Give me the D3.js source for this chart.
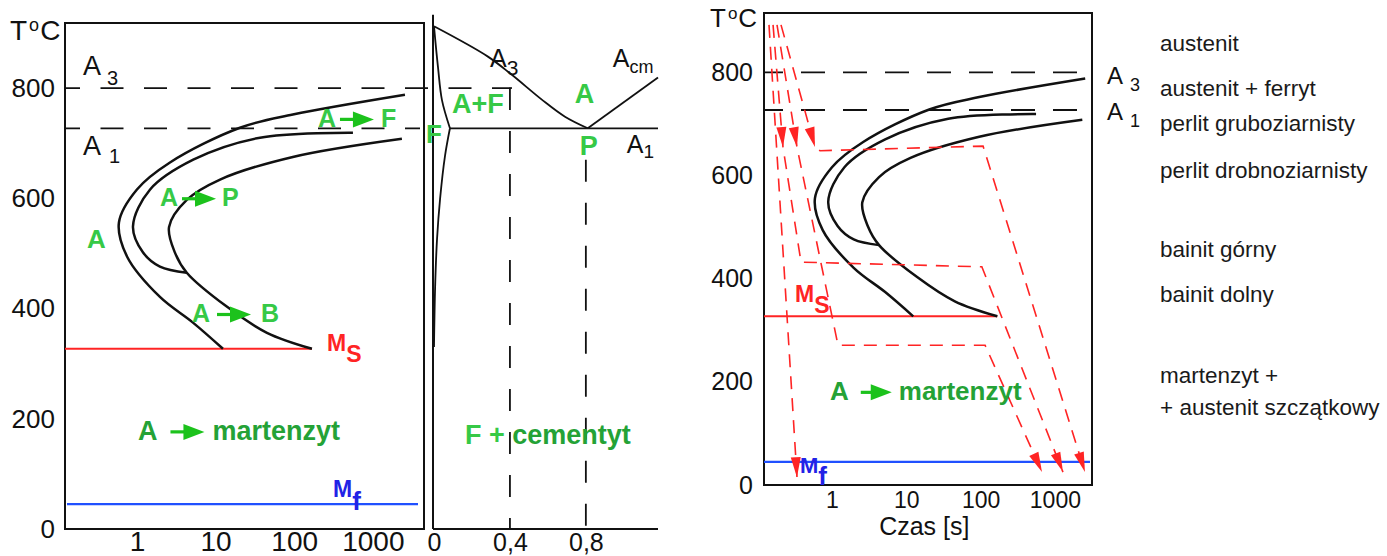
<!DOCTYPE html>
<html>
<head>
<meta charset="utf-8">
<script src="https://cdn.jsdelivr.net/npm/d3@7/dist/d3.min.js"></script>
<style>
  body { margin:0; background:#fff; }
  text { font-family: "Liberation Sans", Arial, sans-serif; }
</style>
</head>
<body>
<script>
// ---- values ----
var tempTicks = [0, 200, 400, 600, 800];
var timeTicks = [1, 10, 100, 1000];
var carbonTicks = [0, 0.4, 0.8];

var A3 = 800, A1 = 727, Ms = 327, Mf = 45;

// C-curves: [time s, temperature C]
var startCurve = [[2560,788],[96,752],[20.4,728],[2.63,665],[1.0,616],[0.59,556],[0.75,494],[1.96,421],[5.2,374],[12.4,327]];
var midCurve   = [[558,719],[36.7,710],[5.2,670],[1.47,616],[0.89,549],[1.19,502],[1.96,476],[4.3,465]];
var endCurve   = [[2340,708],[96,675],[11.4,634],[4.3,597],[2.56,548],[3.05,501],[4.3,465],[14,403],[45,356],[168,327]];

// Fe-C corner: [% C, temperature C]
var a3Line        = [[0,912],[0.284,857],[0.41,824],[0.568,779],[0.69,748],[0.81,727]];
var acmLine       = [[0.81,727],[1.18,819]];
var eutectoidLine = [[0.084,727],[1.18,727]];
var ferriteTop    = [[0,912],[0.021,838],[0.042,778],[0.084,727]];
var ferriteBottom = [[0.084,727],[0.058,677],[0.032,599],[0.016,526],[0.006,440],[0,330]];
var steelGrades   = [[0.4,800],[0.8,670]];   // dashed verticals: %C, top temperature

// cooling paths on the right chart: [time s, temperature C]
var coolPaths = [
  [[0.142,892],[0.338,15]],
  [[0.161,892],[0.219,655],[0.383,432],[104,423],[1285,25]],
  [[0.182,892],[0.338,655],[1.205,271],[115,271],[671,25]],
  [[0.206,892],[0.590,655],[0.690,648],[108,657],[2540,25]]
];
var coolArrows = [[1],[1,4],[1,4],[1,4]];

var phaseNames = ["austenit","austenit + ferryt","perlit gruboziarnisty","perlit drobnoziarnisty",
                  "bainit górny","bainit dolny","martenzyt +","+ austenit szczątkowy"];

// ---- drawing ----
var light="#36c946", dark="#24a236", arrowGreen="#1cc21c", red="#ff2424", blue="#2050ff", ink="#111";

var svg=d3.select("body").append("svg").attr("width",1387).attr("height",556);

var tMin=0.1216;
var xL=d3.scaleLog().domain([tMin,4470]).range([65,424]);
var yL=d3.scaleLinear().domain([0,918]).range([529,23]);
var xC=d3.scaleLinear().domain([0,1.18]).range([434,658]);
var xR=d3.scaleLog().domain([tMin,3160]).range([764,1092]);
var yR=d3.scaleLinear().domain([0,915]).range([485,13]);

function lineFor(x,y,curve){
  var l=d3.line().x(function(d){return x(d[0]);}).y(function(d){return y(d[1]);});
  if(curve) l.curve(d3.curveCatmullRom.alpha(0.5));
  return l;
}

function subLabel(g,x,y,main,sub,o){
  var t=g.append("text").attr("x",x).attr("y",y).attr("font-size",o.size).attr("fill",o.color||ink)
     .attr("font-weight",o.bold?"bold":null);
  t.append("tspan").text(main);
  t.append("tspan").attr("dx",o.dx||0).attr("dy",o.dy).attr("font-size",o.subSize).text(sub);
}

function arrowLabel(g,x,y,a,b,o){
  var fs=o.size||25;
  var t1=g.append("text").attr("x",x).attr("y",y).attr("font-size",fs).attr("font-weight","bold")
          .attr("fill",o.c1||light).text(a);
  var x0=x+t1.node().getComputedTextLength()+(o.gap||4);
  var L=o.len||34, tri=21, hh=8, ym=y-fs*0.29;
  g.append("path").attr("d","M"+x0+","+ym+"H"+(x0+L-tri+1))
   .attr("stroke",arrowGreen).attr("stroke-width",3.2);
  g.append("path").attr("d","M"+(x0+L-tri)+","+(ym-hh)+"L"+(x0+L)+","+ym+"L"+(x0+L-tri)+","+(ym+hh)+"Z")
   .attr("fill",arrowGreen);
  g.append("text").attr("x",x0+L+(o.gap2||7)).attr("y",y).attr("font-size",fs).attr("font-weight","bold")
   .attr("fill",o.c2||light).text(b);
}

function tickAxis(g,axis,size){
  g.call(axis).attr("font-size",size).attr("font-family","'Liberation Sans', Arial, sans-serif");
  g.select(".domain").remove();
  g.selectAll("text").attr("fill","#111");
}

function dashed(g,x1,x2,y1,y2,dash,off){
  g.append("line").attr("x1",x1).attr("x2",x2).attr("y1",y1).attr("y2",y2)
   .attr("stroke",ink).attr("stroke-width",1.8).attr("stroke-dasharray",dash).attr("stroke-dashoffset",off||0);
}

function cCurves(g,x,y){
  [startCurve,midCurve,endCurve].forEach(function(c){
    g.append("path").attr("d",lineFor(x,y,true)(c)).attr("fill","none")
     .attr("stroke",ink).attr("stroke-width",2.5);
  });
}

// ===== left: TTT diagram =====
var gL=svg.append("g");
gL.append("rect").attr("x",xL.range()[0]).attr("y",yL.range()[1])
  .attr("width",xL.range()[1]-xL.range()[0]).attr("height",yL.range()[0]-yL.range()[1])
  .attr("fill","none").attr("stroke",ink).attr("stroke-width",2);

dashed(gL,xL.range()[0],xC(0.4)+2,yL(A3),yL(A3),"23,20.5",8);
dashed(gL,xL.range()[0],xL.range()[1]-4,yL(A1),yL(A1),"23,20.5",8);

gL.append("line").attr("x1",xL.range()[0]).attr("x2",xL(168)).attr("y1",yL(Ms)).attr("y2",yL(Ms))
  .attr("stroke",red).attr("stroke-width",2);
gL.append("line").attr("x1",xL.range()[0]+2).attr("x2",xL.range()[1]-6).attr("y1",yL(Mf)).attr("y2",yL(Mf))
  .attr("stroke",blue).attr("stroke-width",2.2);

cCurves(gL,xL,yL);

tickAxis(gL.append("g").attr("transform","translate("+xL.range()[0]+",0)"),
  d3.axisLeft(yL).tickValues(tempTicks).tickSize(0).tickPadding(10),26);
tickAxis(gL.append("g").attr("transform","translate(0,"+yL(0)+")"),
  d3.axisBottom(xL).tickValues(timeTicks).tickFormat(d3.format("d")).tickSize(0).tickPadding(2),28);

var tl=gL.append("text").attr("x",10).attr("y",40).attr("font-size",28).attr("fill",ink);
tl.append("tspan").text("T");
tl.append("tspan").attr("dx",2).attr("dy",-9).attr("font-size",18).text("o");
tl.append("tspan").attr("dx",1).attr("dy",9).text("C");

subLabel(gL,xL(0.206),yL(A3)-13,"A","3",{size:27,subSize:20,dx:6,dy:10});
subLabel(gL,xL(0.206),yL(A1)+27,"A","1",{size:27,subSize:20,dx:8,dy:8});

arrowLabel(gL,xL(200),yL(730),"A","F",{size:25,gap:4});
arrowLabel(gL,xL(1.96),yL(586),"A","P",{size:25,gap:4,gap2:6});
gL.append("text").attr("x",xL(0.232)).attr("y",yL(510)).attr("font-size",26).attr("font-weight","bold")
  .attr("fill",light).text("A");
arrowLabel(gL,xL(5.0),yL(376),"A","B",{size:25,gap:7,gap2:10});
arrowLabel(gL,xL(1.03),yL(162),"A","martenzyt",{size:27,gap:13,gap2:8,c1:dark,c2:dark});

subLabel(gL,xL(261),yL(Ms)+2,"M","S",{size:23,subSize:23,dy:11,bold:true,color:red});
subLabel(gL,xL(311),yL(Mf)-7,"M","f",{size:23,subSize:26,dy:13,bold:true,color:"#2222e6"});

// ===== middle: Fe-Fe3C corner =====
var gC=svg.append("g");
gC.append("line").attr("x1",xC(0)-1).attr("x2",xC(0)-1).attr("y1",yL(933)).attr("y2",yL(0))
  .attr("stroke",ink).attr("stroke-width",2);
gC.append("line").attr("x1",xC(0)-1).attr("x2",xC(1.18)).attr("y1",yL(0)).attr("y2",yL(0))
  .attr("stroke",ink).attr("stroke-width",2);

[a3Line,ferriteTop,ferriteBottom].forEach(function(c){
  gC.append("path").attr("d",lineFor(xC,yL,true)(c)).attr("fill","none").attr("stroke",ink).attr("stroke-width",1.8);
});
[acmLine,eutectoidLine].forEach(function(c){
  gC.append("path").attr("d",lineFor(xC,yL,false)(c)).attr("fill","none").attr("stroke",ink).attr("stroke-width",1.8);
});
steelGrades.forEach(function(s){
  dashed(gC,xC(s[0]),xC(s[0]),yL(s[1]),yL(0),"22,21",0);
});

tickAxis(gC.append("g").attr("transform","translate(0,"+yL(0)+")"),
  d3.axisBottom(xC).tickValues(carbonTicks).tickFormat(function(d){return String(d).replace(".",",");})
    .tickSize(0).tickPadding(4),25);

subLabel(gC,xC(0.295),yL(838),"A","3",{size:25,subSize:21,dy:8});
subLabel(gC,xC(0.942),yL(838),"A","cm",{size:25,subSize:18,dy:6});
subLabel(gC,xC(1.016),yL(682),"A","1",{size:25,subSize:19,dy:5});

function bigGreen(g,x,y,txt,size){
  g.append("text").attr("x",x).attr("y",y).attr("font-size",size||27).attr("font-weight","bold")
   .attr("fill",light).text(txt);
}
bigGreen(gC,xC(0.095),yL(755),"A+F");
bigGreen(gC,xC(0.742),yL(773),"A");
bigGreen(gC,xC(-0.042),yL(700),"F",26);
bigGreen(gC,xC(0.768),yL(678),"P");
var fc=gC.append("text").attr("x",xC(0.163)).attr("y",yL(155)).attr("font-size",27).attr("font-weight","bold");
fc.append("tspan").attr("fill",light).text("F + ");
fc.append("tspan").attr("fill",dark).text("cementyt");

// ===== right: cooling paths on TTT =====
var gR=svg.append("g");
gR.append("rect").attr("x",xR.range()[0]).attr("y",yR.range()[1])
  .attr("width",xR.range()[1]-xR.range()[0]).attr("height",yR.range()[0]-yR.range()[1])
  .attr("fill","none").attr("stroke",ink).attr("stroke-width",2);

dashed(gR,xR.range()[0],xR.range()[1]-3,yR(A3),yR(A3),"24,18",5);
dashed(gR,xR.range()[0],xR.range()[1]-3,yR(A1),yR(A1),"24,18",5);

gR.append("line").attr("x1",xR.range()[0]).attr("x2",xR(168)).attr("y1",yR(Ms)).attr("y2",yR(Ms))
  .attr("stroke",red).attr("stroke-width",2);
gR.append("line").attr("x1",xR.range()[0]).attr("x2",xR.range()[1]-2).attr("y1",yR(Mf)).attr("y2",yR(Mf))
  .attr("stroke",blue).attr("stroke-width",2.2);

cCurves(gR,xR,yR);

coolPaths.forEach(function(p,i){
  gR.append("path").attr("d",lineFor(xR,yR,false)(p)).attr("fill","none")
    .attr("stroke",red).attr("stroke-width",1.6).attr("stroke-dasharray","13,9");
  coolArrows[i].forEach(function(k){
    var x1=xR(p[k][0]), y1=yR(p[k][1]), x0=xR(p[k-1][0]), y0=yR(p[k-1][1]);
    var len=Math.hypot(x1-x0,y1-y0), ux=(x1-x0)/len, uy=(y1-y0)/len, L=20, h=5;
    var bx=x1-ux*L, by=y1-uy*L;
    gR.append("path").attr("fill",red)
      .attr("d","M"+x1+","+y1+"L"+(bx-uy*h)+","+(by+ux*h)+"L"+(bx+uy*h)+","+(by-ux*h)+"Z");
  });
});

tickAxis(gR.append("g").attr("transform","translate("+xR.range()[0]+",0)"),
  d3.axisLeft(yR).tickValues(tempTicks).tickSize(0).tickPadding(11),25);
tickAxis(gR.append("g").attr("transform","translate(0,"+yR(0)+")"),
  d3.axisBottom(xR).tickValues(timeTicks).tickFormat(d3.format("d")).tickSize(0).tickPadding(7),23);

gR.append("text").attr("x",(xR(1)+xR(100))/2+18).attr("y",535).attr("text-anchor","middle")
  .attr("font-size",25).attr("fill",ink).text("Czas [s]");

var tr=gR.append("text").attr("x",710).attr("y",27).attr("font-size",26).attr("fill",ink);
tr.append("tspan").text("T");
tr.append("tspan").attr("dx",2).attr("dy",-8).attr("font-size",17).text("o");
tr.append("tspan").attr("dx",1).attr("dy",8).text("C");

subLabel(gR,xR.range()[1]+15,yR(A3)+12,"A","3",{size:24,subSize:18,dx:7,dy:7});
subLabel(gR,xR.range()[1]+15,yR(A1)+10,"A","1",{size:24,subSize:18,dx:7,dy:7});

arrowLabel(gR,xR(0.94),yR(165),"A","martenzyt",{size:26,gap:12,len:31,gap2:7,c1:dark,c2:dark});
subLabel(gR,xR(0.318),yR(Ms)-14,"M","S",{size:23,subSize:23,dy:11,bold:true,color:red});
subLabel(gR,xR(0.371),yR(Mf)+11,"M","f",{size:22,subSize:26,dy:12,bold:true,color:"#2222e6"});

// phase list beside the right chart
var rowY=[51,96,131,178,257,302,383,415];
svg.append("g").selectAll("text").data(phaseNames).enter().append("text")
  .attr("x",1160).attr("y",function(d,i){return rowY[i];})
  .attr("font-size",22.5).attr("fill","#1a1a1a").text(function(d){return d;});
</script>
</body>
</html>
